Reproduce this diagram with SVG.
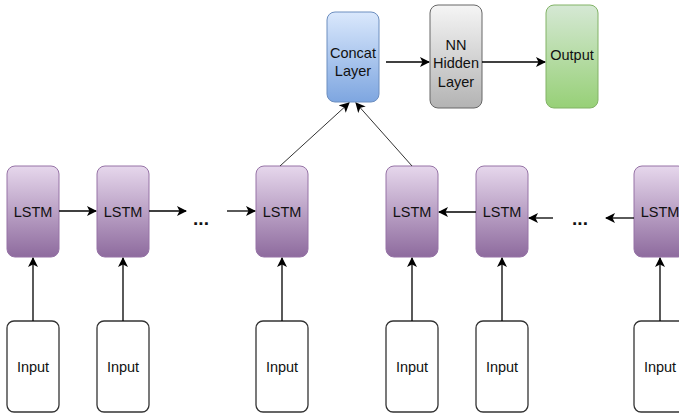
<svg xmlns="http://www.w3.org/2000/svg" width="679" height="415" viewBox="0 0 679 415">
  <style>
    text { font-family: "Liberation Sans", Arial, sans-serif; font-size: 14.5px; fill: #111; text-anchor: middle; }
    .lstm { fill: url(#gPurple); stroke: #9673a6; stroke-width: 1; }
    .inp { fill: #fff; stroke: #333; stroke-width: 1.3; }
    .edge { stroke: #000; stroke-width: 1.3; fill: none; marker-end: url(#arrow); }
    .diag { stroke: #333; stroke-width: 1; fill: none; marker-end: url(#arrow); }
    .dots { font-size: 19px; font-weight: bold; }
  </style>
  <defs>
    <linearGradient id="gPurple" x1="0" y1="0" x2="0" y2="1">
      <stop offset="0" stop-color="#e6d7ec"/>
      <stop offset="1" stop-color="#8e6b9e"/>
    </linearGradient>
    <linearGradient id="gBlue" x1="0" y1="0" x2="0" y2="1">
      <stop offset="0" stop-color="#dae8fc"/>
      <stop offset="1" stop-color="#7ea6e0"/>
    </linearGradient>
    <linearGradient id="gGray" x1="0" y1="0" x2="0" y2="1">
      <stop offset="0" stop-color="#f5f5f5"/>
      <stop offset="1" stop-color="#b3b3b3"/>
    </linearGradient>
    <linearGradient id="gGreen" x1="0" y1="0" x2="0" y2="1">
      <stop offset="0" stop-color="#d5e8d4"/>
      <stop offset="1" stop-color="#97d077"/>
    </linearGradient>
    <marker id="arrow" viewBox="0 0 10 10" refX="9" refY="5" markerWidth="10" markerHeight="10" markerUnits="userSpaceOnUse" orient="auto">
      <path d="M0,0 L10,5 L0,10 L2.5,5 Z" fill="#000"/>
    </marker>
  </defs>

  <!-- top layer -->
  <g id="concat">
    <rect x="327" y="12" width="52" height="90" rx="8" fill="url(#gBlue)" stroke="#6c8ebf"/>
    <text x="353" y="58">Concat</text>
    <text x="353" y="76">Layer</text>
  </g>
  <g id="hidden">
    <rect x="430" y="5" width="52" height="103" rx="8" fill="url(#gGray)" stroke="#666"/>
    <text x="456" y="50">NN</text>
    <text x="456" y="68">Hidden</text>
    <text x="456" y="87">Layer</text>
  </g>
  <g id="output">
    <rect x="546" y="5" width="52" height="103" rx="8" fill="url(#gGreen)" stroke="#82b366"/>
    <text x="572" y="60">Output</text>
  </g>

  <!-- LSTM cells -->
  <g id="lstm1"><rect class="lstm" x="7" y="166" width="52" height="91" rx="8"/><text x="33" y="217">LSTM</text></g>
  <g id="lstm2"><rect class="lstm" x="97" y="166" width="52" height="91" rx="8"/><text x="123" y="217">LSTM</text></g>
  <g id="lstm3"><rect class="lstm" x="256" y="166" width="52" height="91" rx="8"/><text x="282" y="217">LSTM</text></g>
  <g id="lstm4"><rect class="lstm" x="386" y="166" width="52" height="91" rx="8"/><text x="412" y="217">LSTM</text></g>
  <g id="lstm5"><rect class="lstm" x="476" y="166" width="52" height="91" rx="8"/><text x="502" y="217">LSTM</text></g>
  <g id="lstm6"><rect class="lstm" x="634" y="166" width="52" height="91" rx="8"/><text x="660" y="217">LSTM</text></g>

  <!-- inputs -->
  <g id="input1"><rect class="inp" x="7" y="321" width="52" height="91" rx="7"/><text x="33" y="372">Input</text></g>
  <g id="input2"><rect class="inp" x="97" y="321" width="52" height="91" rx="7"/><text x="123" y="372">Input</text></g>
  <g id="input3"><rect class="inp" x="256" y="321" width="52" height="91" rx="7"/><text x="282" y="372">Input</text></g>
  <g id="input4"><rect class="inp" x="386" y="321" width="52" height="91" rx="7"/><text x="412" y="372">Input</text></g>
  <g id="input5"><rect class="inp" x="476" y="321" width="52" height="91" rx="7"/><text x="502" y="372">Input</text></g>
  <g id="input6"><rect class="inp" x="634" y="321" width="52" height="91" rx="7"/><text x="660" y="372">Input</text></g>

  <!-- ellipses -->
  <text class="dots" x="201" y="225">...</text>
  <text class="dots" x="580" y="225">...</text>

  <!-- connectors -->
  <g id="connectors">
    <line class="edge" x1="386" y1="62" x2="429" y2="62"/>
    <line class="edge" x1="482" y1="62" x2="545" y2="62"/>

    <line class="edge" x1="59" y1="211" x2="96" y2="211"/>
    <line class="edge" x1="149" y1="211" x2="186" y2="211"/>
    <line class="edge" x1="227" y1="211" x2="255" y2="211"/>

    <line class="edge" x1="476" y1="212" x2="439" y2="212"/>
    <line class="edge" x1="553" y1="218" x2="529" y2="218"/>
    <line class="edge" x1="634" y1="218" x2="606" y2="218"/>

    <line class="diag" x1="280" y1="166" x2="349" y2="103"/>
    <line class="diag" x1="412" y1="166" x2="356" y2="103"/>

    <line class="edge" x1="33" y1="321" x2="33" y2="258"/>
    <line class="edge" x1="123" y1="321" x2="123" y2="258"/>
    <line class="edge" x1="282" y1="321" x2="282" y2="258"/>
    <line class="edge" x1="412" y1="321" x2="412" y2="258"/>
    <line class="edge" x1="502" y1="321" x2="502" y2="258"/>
    <line class="edge" x1="660" y1="321" x2="660" y2="258"/>
  </g>
</svg>
